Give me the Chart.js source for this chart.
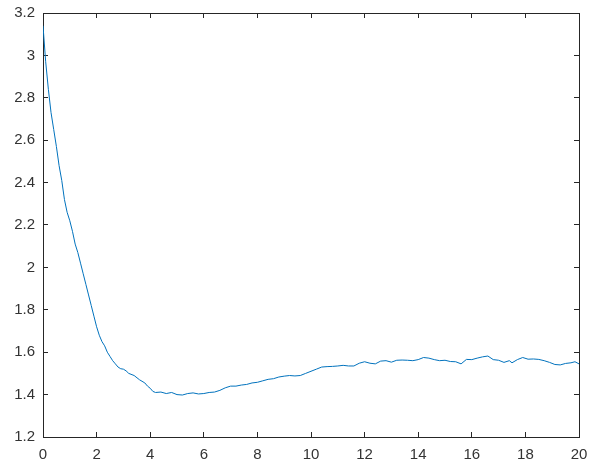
<!DOCTYPE html>
<html>
<head>
<meta charset="utf-8">
<script src="https://cdn.jsdelivr.net/npm/chart.js@4.4.0/dist/chart.umd.min.js"></script>
<style>
  html, body { margin: 0; padding: 0; background: #fff; }
  #wrap { width: 590px; height: 469px; }
</style>
</head>
<body>
<div id="wrap"><canvas id="plot" width="590" height="469"></canvas></div>
<script>
// values
const xs = [0, 0.1, 0.2, 0.3, 0.4, 0.5, 0.6, 0.7, 0.8, 0.9, 1.0, 1.1, 1.2, 1.3, 1.4, 1.5, 1.6, 1.7, 1.8, 1.9,
  2.0, 2.1, 2.2, 2.3, 2.4, 2.5, 2.6, 2.7, 2.8, 2.9, 3.0, 3.1, 3.2, 3.4, 3.6, 3.8, 3.9, 4.0, 4.1, 4.2,
  4.4, 4.6, 4.8, 5.0, 5.2, 5.4, 5.6, 5.8, 6.0, 6.2, 6.4, 6.6, 6.8, 7.0, 7.2, 7.4, 7.6, 7.8, 8.0, 8.2,
  8.4, 8.6, 8.8, 9.0, 9.2, 9.4, 9.6, 9.8, 10.0, 10.2, 10.4, 10.6, 10.8, 11.0, 11.2, 11.4, 11.6, 11.8, 12.0, 12.2,
  12.4, 12.6, 12.8, 13.0, 13.2, 13.4, 13.6, 13.8, 14.0, 14.2, 14.4, 14.6, 14.8, 15.0, 15.2, 15.4, 15.6, 15.8, 16.0, 16.2,
  16.4, 16.6, 16.8, 17.0, 17.2, 17.4, 17.5, 17.7, 17.9, 18.1, 18.3, 18.5, 18.7, 18.9, 19.1, 19.3, 19.5, 19.7, 19.85, 20.0];
const ys = [3.14, 2.97, 2.84, 2.73, 2.65, 2.57, 2.48, 2.41, 2.32, 2.26, 2.22, 2.17, 2.11, 2.07, 2.02, 1.97, 1.92, 1.87, 1.82, 1.77,
  1.72, 1.68, 1.65, 1.63, 1.60, 1.58, 1.56, 1.545, 1.53, 1.522, 1.52, 1.512, 1.50, 1.49, 1.47, 1.455, 1.44, 1.43, 1.415, 1.41,
  1.412, 1.405, 1.41, 1.40, 1.398, 1.405, 1.408, 1.403, 1.405, 1.41, 1.412, 1.42, 1.432, 1.44, 1.44, 1.445, 1.448, 1.455, 1.458, 1.465,
  1.472, 1.475, 1.483, 1.487, 1.49, 1.488, 1.49, 1.50, 1.51, 1.52, 1.53, 1.532, 1.533, 1.535, 1.538, 1.535, 1.535, 1.548, 1.555, 1.548,
  1.545, 1.558, 1.56, 1.553, 1.562, 1.563, 1.562, 1.56, 1.565, 1.575, 1.572, 1.565, 1.56, 1.562, 1.556, 1.555, 1.545, 1.566, 1.565, 1.572,
  1.578, 1.582, 1.565, 1.562, 1.552, 1.56, 1.55, 1.565, 1.575, 1.567, 1.568, 1.566, 1.56, 1.552, 1.542, 1.54, 1.547, 1.55, 1.555, 1.545];

const xTicks = [0, 2, 4, 6, 8, 10, 12, 14, 16, 18, 20];
const yTicks = [1.2, 1.4, 1.6, 1.8, 2, 2.2, 2.4, 2.6, 2.8, 3, 3.2];

const axisColor = '#262626';
const labelFont = { family: 'Liberation Sans, Arial, sans-serif', size: 15 };

function fixedTicks(list) {
  return function (axis) { axis.ticks = list.map(v => ({ value: v })); };
}

// force exact box sizes, no extra label overflow padding
function fixSize(w, h) {
  return function (s) {
    if (w !== null) s.width = w;
    if (h !== null) s.height = h;
    s.paddingLeft = s.paddingRight = s.paddingTop = s.paddingBottom = 0;
  };
}

const ctx = document.getElementById('plot');

new Chart(ctx, {
  type: 'line',
  data: {
    datasets: [{
      data: xs.map((x, i) => ({ x: x, y: ys[i] })),
      borderColor: '#0072BD',
      borderWidth: 1,
      pointRadius: 0,
      tension: 0,
      fill: false
    }]
  },
  options: {
    responsive: false,
    animation: false,
    events: [],
    layout: { padding: 0 },
    plugins: { legend: { display: false }, tooltip: { enabled: false } },
    scales: {
      x: {
        type: 'linear', position: 'bottom', min: 0, max: 20,
        afterBuildTicks: fixedTicks(xTicks),
        afterFit: fixSize(null, 32),
        border: { color: axisColor, width: 1 },
        grid: { drawOnChartArea: false, drawTicks: true, tickLength: -5, color: axisColor },
        ticks: { color: '#333', font: labelFont, padding: 14, maxRotation: 0, autoSkip: false,
          callback: v => String(v) }
      },
      x2: {
        type: 'linear', position: 'top', min: 0, max: 20,
        afterBuildTicks: fixedTicks(xTicks),
        afterFit: fixSize(null, 13),
        border: { color: axisColor, width: 1 },
        grid: { drawOnChartArea: false, drawTicks: true, tickLength: -5, color: axisColor },
        ticks: { display: false }
      },
      y: {
        type: 'linear', position: 'left', min: 1.2, max: 3.2,
        afterBuildTicks: fixedTicks(yTicks),
        afterFit: fixSize(43, null),
        border: { color: axisColor, width: 1 },
        grid: { drawOnChartArea: false, drawTicks: true, tickLength: -5, color: axisColor },
        ticks: { color: '#333', font: labelFont, padding: 13, autoSkip: false,
          callback: v => String(Math.round(v * 10) / 10) }
      },
      y2: {
        type: 'linear', position: 'right', min: 1.2, max: 3.2,
        afterBuildTicks: fixedTicks(yTicks),
        afterFit: fixSize(11, null),
        border: { color: axisColor, width: 1 },
        grid: { drawOnChartArea: false, drawTicks: true, tickLength: -5, color: axisColor },
        ticks: { display: false }
      }
    }
  }
});
</script>
</body>
</html>
